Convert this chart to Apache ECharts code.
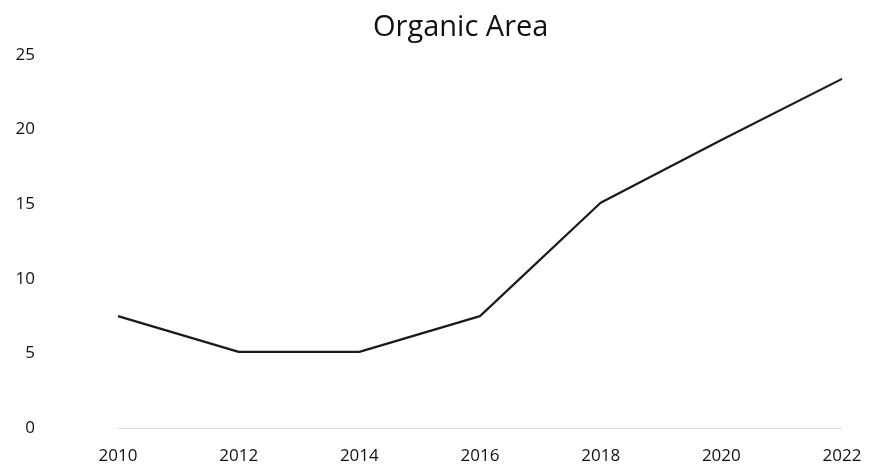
<!DOCTYPE html>
<html lang="en">
<head>
  <meta charset="UTF-8">
  <title>Organic Area</title>
  <style>
    #container, html, body {
      margin: 0;
      padding: 0;
      height: 100%;
      width: 100%;
      background: #fff;
    }
  </style>
</head>
<body>
  <div id="container"></div>
</body>
<script src="https://cdn.jsdelivr.net/npm/echarts@6/dist/echarts.min.js"></script>
<script>
  var years = ['2010', '2012', '2014', '2016', '2018', '2020', '2022']
  var organicArea = [7.5, 5.1, 5.1, 7.5, 15.1, 19.3, 23.4]
  var yTicks = { min: 0, max: 25, interval: 5 }

  window.onload = function () {
    var chart = echarts.init(document.querySelector('#container'))
    var font = '"Open Sans", sans-serif'
    var option = {
      title: {
        text: 'Organic Area',
        left: 368,
        top: 8,
        textStyle: { fontFamily: font, fontSize: 29, fontWeight: 'normal', color: '#111' }
      },
      grid: { left: 118, right: 34, top: 55, bottom: 38 },
      xAxis: {
        type: 'category',
        data: years,
        boundaryGap: false,
        axisLine: { lineStyle: { color: '#d6d6d6', type: 'dotted' } },
        axisTick: { show: false },
        axisLabel: { margin: 20, fontFamily: font, fontSize: 17, color: '#111' }
      },
      yAxis: {
        type: 'value',
        min: yTicks.min,
        max: yTicks.max,
        interval: yTicks.interval,
        splitLine: { show: false },
        axisLine: { show: false },
        axisTick: { show: false },
        axisLabel: { margin: 83, fontFamily: font, fontSize: 17, color: '#111' }
      },
      series: [
        {
          type: 'line',
          data: organicArea,
          symbol: 'none',
          lineStyle: { color: '#1a1a1a', width: 2.2 }
        }
      ]
    }
    chart.setOption(option)
    window.onresize = chart.resize
  }
</script>
</html>
